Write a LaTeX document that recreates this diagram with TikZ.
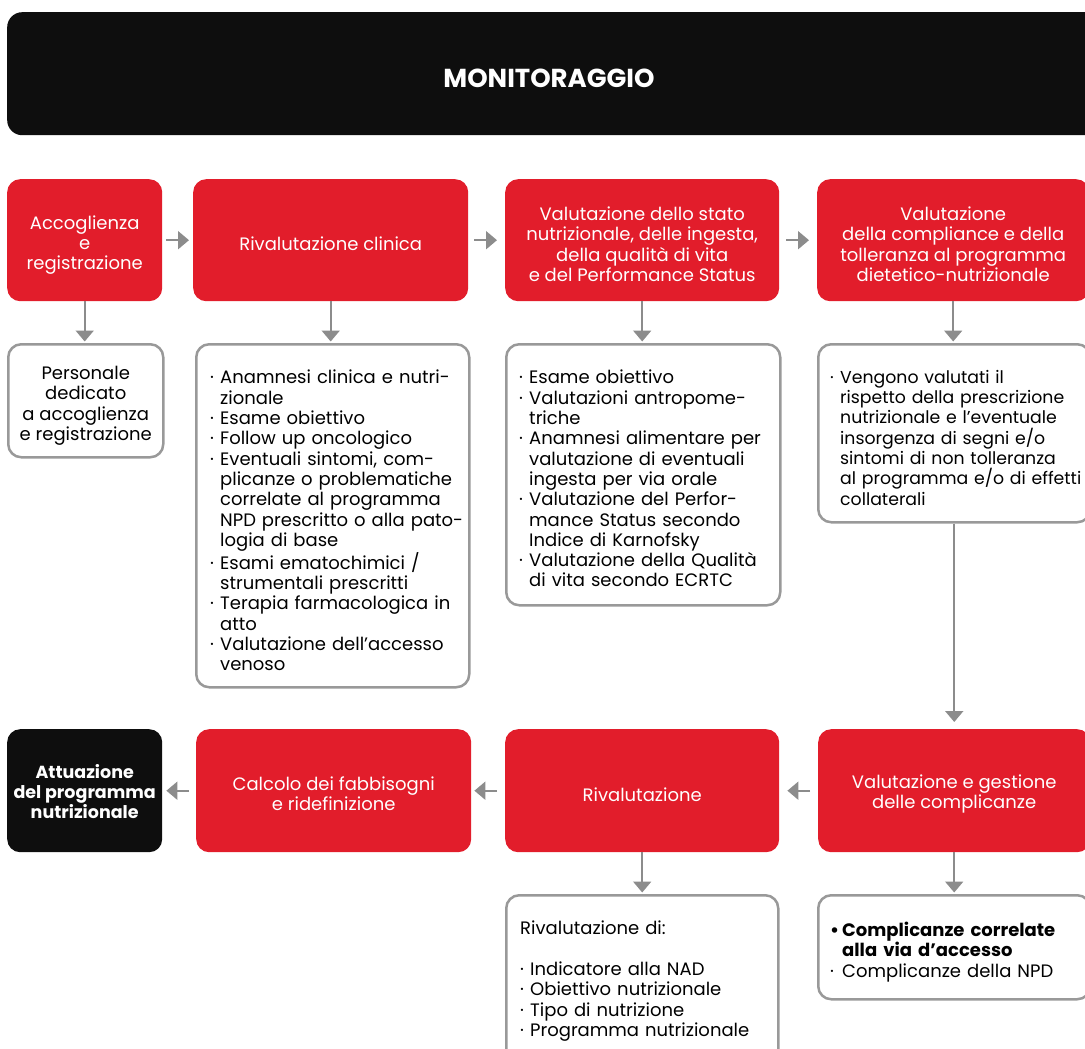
\documentclass[tikz,border=0pt]{standalone}
\usepackage{fontspec}
\setmainfont{Poppins}
\usetikzlibrary{arrows.meta}
\definecolor{redb}{HTML}{E21D2B}
\definecolor{blk}{HTML}{0E0E0E}
\definecolor{arrc}{HTML}{8C8C8C}
\definecolor{bord}{HTML}{999999}
\newcommand{\nl}{\hfil\break}
\newcommand{\bitem}[1]{\hangindent=10pt\hangafter=1\noindent\makebox[10pt][l]{·}#1\par}
\newcommand{\bbitem}[1]{\hangindent=12pt\hangafter=1\noindent\makebox[12pt][l]{\bfseries•}{\bfseries #1}\par}
\begin{document}
\begin{tikzpicture}[x=1pt,y=-1pt,
  bodyfont/.style={font=\fontsize{18}{20.3}\selectfont},
  redbox/.style={fill=redb, rounded corners=13pt, inner sep=0pt, anchor=north west},
  boxtext/.style={inner sep=0pt, align=center, text=white, bodyfont},
  blkbox/.style={fill=blk, rounded corners=13pt, inner sep=0pt, anchor=north west},
  whitebox/.style={draw=bord, line width=2.5pt, fill=white, rounded corners=13pt, inner sep=0pt, anchor=north west},
  listtext/.style={anchor=north west, inner sep=0pt, align=left, bodyfont},
  conn/.style={draw=arrc, line width=2pt, -{Triangle[width=18pt,length=11pt]}}
]
\useasboundingbox (0,0) rectangle (1085,1049);
\clip (0,0) rectangle (1085,1049);

% header
\node[fill=blk, rounded corners=15pt, anchor=north west, minimum width=1095pt, minimum height=123pt, inner sep=0pt] (hdr) at (7,12) {};
\node[text=white, font=\fontsize{26}{29}\selectfont\bfseries] (hdrt) at (549,78) {MONITORAGGIO};

% top red row
\node[redbox, minimum width=155pt, minimum height=122pt] (r1) at (7,179) {};
\node[redbox, minimum width=275pt, minimum height=122pt] (r2) at (193,179) {};
\node[redbox, minimum width=274pt, minimum height=122pt] (r3) at (505,179) {};
\node[redbox, minimum width=272pt, minimum height=122pt] (r4) at (817,179) {};
\node[boxtext] (r1t) at ([yshift=-5pt]r1.center) {Accoglienza\\e\\registrazione};
\node[boxtext] (r2t) at ([yshift=-4pt]r2.center) {Rivalutazione clinica};
\node[boxtext] (r3t) at ([yshift=-4pt]r3.center) {Valutazione dello stato\\nutrizionale, delle ingesta,\\della qualità di vita\\e del Performance Status};
\node[boxtext] (r4t) at ([yshift=-4pt]r4.center) {Valutazione\\della compliance e della\\tolleranza al programma\\dietetico-nutrizionale};

% white boxes top
\node[whitebox, minimum width=155pt, minimum height=113pt] (w1) at (7,343) {};
\node[boxtext, text=black] (w1t) at ([yshift=-5pt]w1.center) {Personale\\dedicato\\a accoglienza\\e registrazione};
\node[whitebox, minimum width=273pt, minimum height=343pt] (w2) at (195,343) {};
\node[whitebox, minimum width=274pt, minimum height=261pt] (w3) at (505,343) {};
\node[whitebox, minimum width=272pt, minimum height=178pt] (w4) at (817,343) {};

\node[listtext, text width=262pt] (t2) at (210,370) {%
\bitem{Anamnesi clinica e nutri-\nl zionale}
\bitem{Esame obiettivo}
\bitem{Follow up oncologico}
\bitem{Eventuali sintomi, com-\nl plicanze o problematiche\nl correlate al programma\nl NPD prescritto o alla pato-\nl logia di base}
\bitem{Esami ematochimici /\nl strumentali prescritti}
\bitem{Terapia farmacologica in\nl atto}
\bitem{Valutazione dell’accesso\nl venoso}};

\node[listtext, text width=262pt] (t3) at (519,370) {%
\bitem{Esame obiettivo}
\bitem{Valutazioni antropome-\nl triche}
\bitem{Anamnesi alimentare per\nl valutazione di eventuali\nl ingesta per via orale}
\bitem{Valutazione del Perfor-\nl mance Status secondo\nl Indice di Karnofsky}
\bitem{Valutazione della Qualità\nl di vita secondo ECRTC}};

\node[listtext, text width=262pt, font=\fontsize{17.3}{20.3}\selectfont] (t4) at (830,370) {%
\bitem{Vengono valutati il\nl rispetto della prescrizione\nl nutrizionale e l’eventuale\nl insorgenza di segni e/o\nl sintomi di non tolleranza\nl al programma e/o di effetti\nl collaterali}};

% bottom row
\node[blkbox, minimum width=155pt, minimum height=123pt] (b1) at (7,729) {};
\node[boxtext, font=\fontsize{17.5}{20.3}\selectfont\bfseries] (b1t) at ([yshift=-1pt]b1.center) {Attuazione\\del programma\\nutrizionale};
\node[redbox, minimum width=275pt, minimum height=123pt] (b2) at (196,729) {};
\node[redbox, minimum width=274pt, minimum height=123pt] (b3) at (505,729) {};
\node[redbox, minimum width=272pt, minimum height=123pt] (b4) at (818,729) {};
\node[boxtext] (b2t) at ([yshift=-3pt]b2.center) {Calcolo dei fabbisogni\\e ridefinizione};
\node[boxtext] (b3t) at ([yshift=-4pt]b3.center) {Rivalutazione};
\node[boxtext] (b4t) at ([yshift=-3pt]b4.center) {Valutazione e gestione\\delle complicanze};

% bottom white
\node[whitebox, minimum width=272pt, minimum height=175pt] (x1) at (505,894) {};
\node[whitebox, minimum width=272pt, minimum height=104pt] (x2) at (817,894) {};

\node[listtext, text width=250pt] (tx1) at (520,921) {%
\noindent Rivalutazione di:\par\vspace{20.3pt}
\bitem{Indicatore alla NAD}
\bitem{Obiettivo nutrizionale}
\bitem{Tipo di nutrizione}
\bitem{Programma nutrizionale}};

\node[listtext, text width=250pt] (tx2) at (830,922) {%
\bbitem{Complicanze correlate\nl alla via d’accesso}
\hangindent=12pt\hangafter=1\noindent\makebox[12pt][l]{·}Complicanze della NPD\par};

% connectors top row
\draw[conn, shorten <=4pt, shorten >=4pt] (r1.east) -- (r2.west);
\draw[conn, shorten <=6pt, shorten >=8pt] (r2.east) -- (r3.west);
\draw[conn, shorten <=7pt, shorten >=8pt] (r3.east) -- (r4.west);

\draw[conn, shorten >=1.5pt] (r1.south) -- (r1.south |- w1.north);
\draw[conn, shorten >=1.5pt] (r2.south) -- (r2.south |- w2.north);
\draw[conn, shorten >=1.5pt] (r3.south) -- (r3.south |- w3.north);
\draw[conn, shorten >=1.5pt] (r4.south) -- (r4.south |- w4.north);

\draw[conn, shorten >=7pt] (w4.south) -- (w4.south |- b4.north);

% connectors bottom row
\draw[conn, shorten <=8pt, shorten >=8pt] (b4.west) -- (b3.east);
\draw[conn, shorten <=8pt, shorten >=3pt] (b3.west) -- (b2.east);
\draw[conn, shorten <=7pt, shorten >=4pt] (b2.west) -- (b1.east);

\draw[conn, shorten >=1.5pt] (b3.south) -- (b3.south |- x1.north);
\draw[conn, shorten >=1.5pt] (b4.south) -- (b4.south |- x2.north);
\end{tikzpicture}
\end{document}
